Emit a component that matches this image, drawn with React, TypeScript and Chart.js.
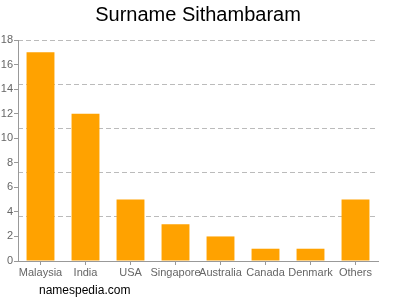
import React, { useEffect, useRef } from "react";
import { Chart, registerables } from "chart.js";

Chart.register(...registerables);

const titleText = "Surname Sithambaram";
const footerText = "namespedia.com";
const categories = ["Malaysia", "India", "USA", "Singapore", "Australia", "Canada", "Denmark", "Others"];
const counts = [17, 12, 5, 3, 2, 1, 1, 5];
const yMin = 0;
const yMax = 18;
const yStep = 2;
const gridCount = 6;

const FONT = "'Liberation Sans', Arial, sans-serif";

const textPlugin = {
  id: "textPlugin",
  afterDraw(chart: any) {
    const ctx = chart.ctx;
    ctx.save();
    ctx.fillStyle = "#000";
    ctx.font = `20px ${FONT}`;
    ctx.textAlign = "center";
    ctx.textBaseline = "middle";
    ctx.fillText(titleText, 198, 15);
    ctx.font = `12px ${FONT}`;
    ctx.textAlign = "left";
    ctx.fillText(footerText, 39, 291);
    ctx.restore();
  },
};

export default function App() {
  const ref = useRef<HTMLCanvasElement>(null);
  useEffect(() => {
    document.body.style.margin = "0";
    const chart = new Chart(ref.current!, {
      type: "bar",
      data: {
        labels: categories,
        datasets: [
          {
            data: counts,
            backgroundColor: "#FFA200",
            borderWidth: 0,
            categoryPercentage: 1,
            barPercentage: 0.62,
          },
        ],
      },
      options: {
        animation: false,
        responsive: false,
        maintainAspectRatio: false,
        layout: { padding: { top: 40, right: 22, bottom: 19, left: 0 } },
        plugins: { legend: { display: false }, title: { display: false }, tooltip: { enabled: false } },
        scales: {
          x: {
            offset: true,
            grid: { offset: false, drawOnChartArea: false, drawTicks: true, tickLength: 4, color: "#999" },
            border: { color: "#999" },
            ticks: { font: { family: FONT, size: 11 }, color: "#666", padding: 1, maxRotation: 0, autoSkip: false },
            afterFit: (s: any) => { s.height = 20; },
          },
          y: {
            position: "left",
            min: yMin,
            max: yMax,
            grid: { drawOnChartArea: false, drawTicks: true, tickLength: 4, color: "#999" },
            border: { color: "#999" },
            ticks: { stepSize: yStep, font: { family: FONT, size: 11 }, color: "#666", padding: 1 },
            afterFit: (s: any) => { s.width = 18; },
          },
          y2: {
            position: "right",
            min: yMin,
            max: yMax,
            ticks: { display: false, count: gridCount },
            grid: {
              drawTicks: false,
              tickLength: 0,
              color: (c: any) => (c.tick && c.tick.value === 0 ? "rgba(0,0,0,0)" : "#bbb"),
            },
            border: { display: false, dash: [5, 3] },
            afterFit: (s: any) => { s.width = 0; },
          },
        },
      },
      plugins: [textPlugin],
    });
    return () => chart.destroy();
  }, []);
  return (
    <div style={{ width: 400, height: 300 }}>
      <canvas ref={ref} width={400} height={300} style={{ display: "block" }} />
    </div>
  );
}
